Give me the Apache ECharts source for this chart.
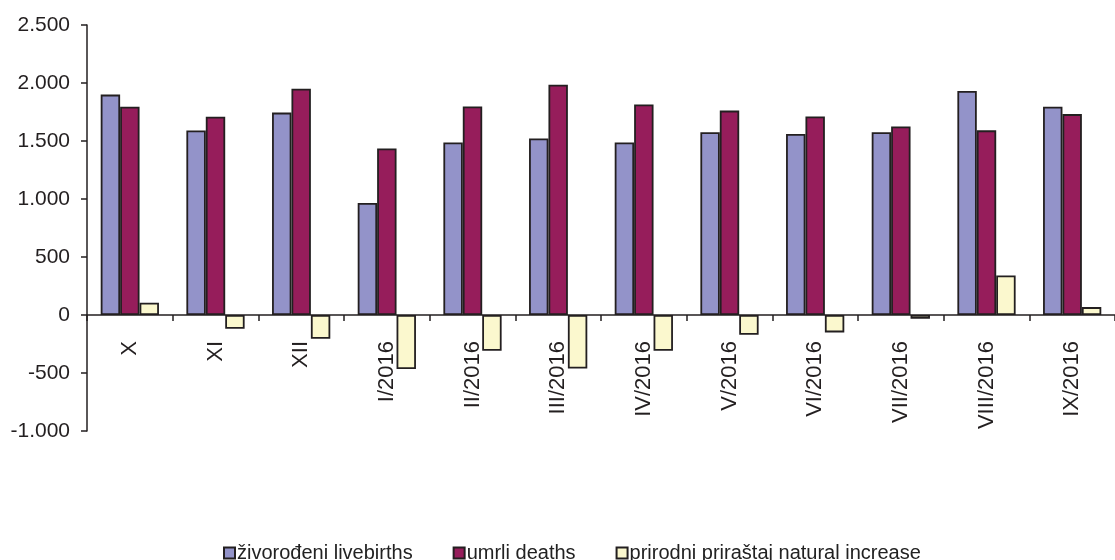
<!DOCTYPE html>
<html>
<head>
<meta charset="utf-8">
<script src="https://cdn.jsdelivr.net/npm/echarts@6/dist/echarts.min.js"></script>
<style>
html,body{margin:0;padding:0;background:#fff;}
#c{width:1115px;height:560px;}
</style>
</head>
<body>
<div id="c"></div>
<script>
const categories = ['X','XI','XII','I/2016','II/2016','III/2016','IV/2016','V/2016','VI/2016','VII/2016','VIII/2016','IX/2016'];
const livebirths = [1900, 1590, 1745, 965, 1488, 1522, 1488, 1575, 1560, 1575, 1932, 1795];
const deaths = [1795, 1710, 1950, 1435, 1798, 1985, 1815, 1762, 1712, 1625, 1592, 1732];
const naturalIncrease = [105, -118, -205, -465, -308, -462, -308, -170, -150, -32, 340, 68];
const seriesNames = ['živorođeni livebirths', 'umrli deaths', 'prirodni priraštaj natural increase'];
const yTicks = {min: -1000, max: 2500, interval: 500};

const chart = echarts.init(document.getElementById('c'), null, {renderer: 'canvas'});
const border = {borderColor: '#231f20', borderWidth: 1.8};
const fmt = v => {
  const s = Math.abs(v).toString().replace(/\B(?=(\d{3})+(?!\d))/g, '.');
  return (v < 0 ? '-' : '') + s;
};
chart.setOption({
  animation: false,
  textStyle: {fontFamily: 'Liberation Sans, Arial, sans-serif'},
  grid: {left: 87, right: -10, top: 25, bottom: 129, containLabel: false},
  legend: {
    top: 538, left: 218,
    itemWidth: 11, itemHeight: 11, itemGap: 40,
    icon: 'rect',
    textStyle: {fontFamily: 'Liberation Sans, Arial, sans-serif', fontSize: 20, color: '#222', padding: [0,0,0,-3]},
    data: seriesNames
  },
  xAxis: {
    type: 'category', data: categories,
    axisLine: {onZero: true, lineStyle: {color: '#231f20', width: 1.5}},
    axisTick: {show: true, length: 6, lineStyle: {color: '#231f20', width: 1.5}},
    axisLabel: {rotate: 90, margin: -90, fontSize: 22, color: '#231f20', interval: 0}
  },
  yAxis: {
    type: 'value', min: yTicks.min, max: yTicks.max, interval: yTicks.interval,
    splitLine: {show: false},
    axisLine: {show: true, lineStyle: {color: '#231f20', width: 1.5}},
    axisTick: {show: true, length: 6, lineStyle: {color: '#231f20', width: 1.5}},
    axisLabel: {fontSize: 21, color: '#231f20', margin: 17, formatter: fmt}
  },
  series: [
    {name: seriesNames[0], type: 'bar', data: livebirths, barGap: '0%', barCategoryGap: '32%', itemStyle: Object.assign({color: '#9393c9'}, border)},
    {name: seriesNames[1], type: 'bar', data: deaths, barGap: '0%', barCategoryGap: '32%', itemStyle: Object.assign({color: '#961d5b'}, border)},
    {name: seriesNames[2], type: 'bar', data: naturalIncrease, barGap: '0%', barCategoryGap: '32%', itemStyle: Object.assign({color: '#fbf8ce'}, border)}
  ]
});
</script>
</body>
</html>
